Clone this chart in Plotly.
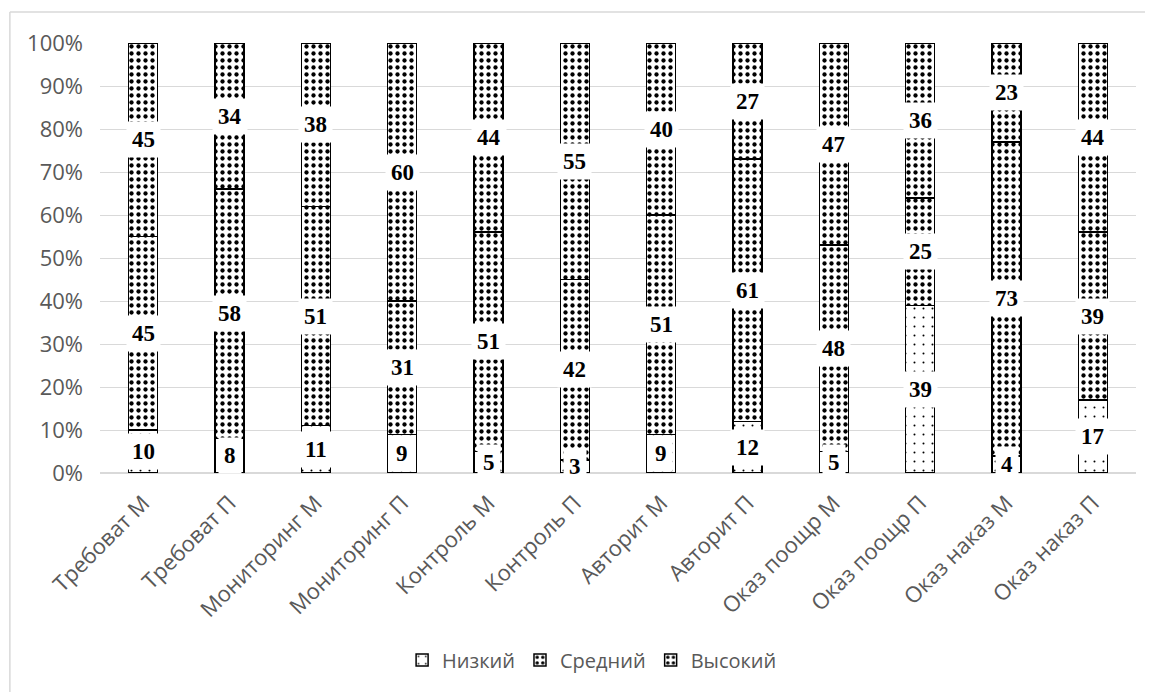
import plotly.graph_objects as go

categories = ["Требоват М", "Требоват П", "Мониторинг М", "Мониторинг П",
              "Контроль М", "Контроль П", "Авторит М", "Авторит П",
              "Оказ поощр М", "Оказ поощр П", "Оказ наказ М", "Оказ наказ П"]
low = [10, 8, 11, 9, 5, 3, 9, 12, 5, 39, 4, 17]
medium = [45, 58, 51, 31, 51, 42, 51, 61, 48, 25, 73, 39]
high = [45, 34, 38, 60, 44, 55, 40, 27, 47, 36, 23, 44]
series_names = ["Низкий", "Средний", "Высокий"]
y_tickvals = [0, 10, 20, 30, 40, 50, 60, 70, 80, 90, 100]
y_ticktext = ["0%", "10%", "20%", "30%", "40%", "50%", "60%", "70%", "80%", "90%", "100%"]

series = [low, medium, high]
patterns = [
    dict(shape=".", size=9, solidity=0.04, fgcolor="black", bgcolor="white", fillmode="replace"),
    dict(shape=".", size=7, solidity=0.3, fgcolor="black", bgcolor="white", fillmode="replace"),
    dict(shape=".", size=7, solidity=0.3, fgcolor="black", bgcolor="white", fillmode="replace"),
]

fig = go.Figure()
for name, vals, pat in zip(series_names, series, patterns):
    fig.add_trace(go.Bar(
        x=categories, y=vals, name=name, width=0.335,
        marker=dict(color="white", pattern=pat, line=dict(color="black", width=1.5)),
        hoverinfo="skip",
    ))

# data labels centred in each segment, white boxes
annotations = []
for i, cat in enumerate(categories):
    base = 0
    for vals in series:
        v = vals[i]
        annotations.append(dict(
            x=cat, y=base + v / 2, xref="x", yref="y", text=str(v), showarrow=False,
            font=dict(family="Liberation Serif", size=23, color="black", weight="bold"),
            bgcolor="white", borderpad=5,
        ))
        base += v

fig.update_layout(
    barmode="stack",
    width=1153, height=692,
    margin=dict(l=92, r=25, t=35, b=227),
    paper_bgcolor="white", plot_bgcolor="white",
    font=dict(family="Open Sans", size=22, color="#595959"),
    annotations=annotations,
    showlegend=True,
    legend=dict(orientation="h", x=0.475, xanchor="center", y=-0.435, yanchor="middle",
                font=dict(family="Open Sans", size=20, color="#595959"),
                itemwidth=30, traceorder="normal"),
    shapes=[
        dict(type="line", xref="paper", yref="paper", x0=-0.087, x1=1.03, y0=1.072, y1=1.072,
             line=dict(color="#d9d9d9", width=1.5)),
        dict(type="line", xref="paper", yref="paper", x0=-0.087, x1=-0.087, y0=1.072, y1=-0.6,
             line=dict(color="#d9d9d9", width=1.5)),
    ],
)
fig.update_yaxes(range=[0, 100], tickvals=y_tickvals, ticktext=y_ticktext, showgrid=True,
                 gridcolor="#d9d9d9", gridwidth=1, zeroline=True, zerolinecolor="#d9d9d9",
                 showline=False, ticks="", ticklabelstandoff=16,
                 tickfont=dict(size=22, color="#595959"))
fig.update_xaxes(tickangle=-45, showline=False, ticks="", ticklabelstandoff=12,
                 tickfont=dict(size=22, color="#595959"))

fig.write_html("out.html")
